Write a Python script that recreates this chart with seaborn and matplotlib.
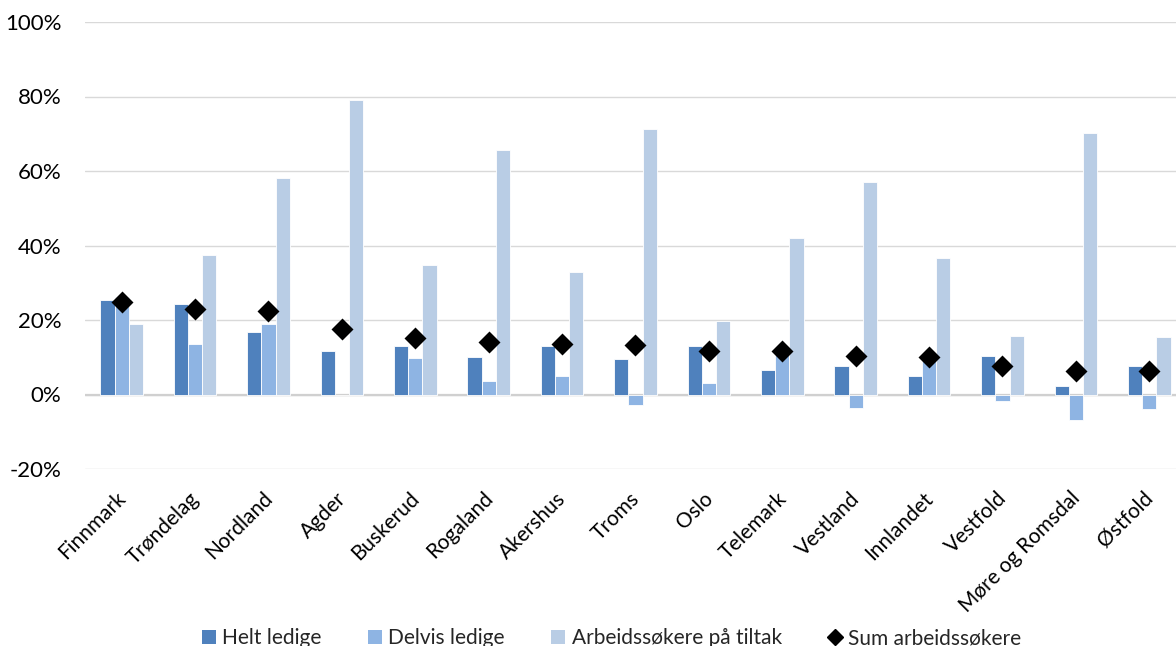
import numpy as np
import pandas as pd
import matplotlib
matplotlib.use("Agg")
import matplotlib.pyplot as plt
import matplotlib.transforms as mtransforms
import seaborn as sns
from matplotlib.patches import Patch
from matplotlib.lines import Line2D
from matplotlib.ticker import FuncFormatter

categories = ["Finnmark", "Trøndelag", "Nordland", "Agder", "Buskerud", "Rogaland",
              "Akershus", "Troms", "Oslo", "Telemark", "Vestland", "Innlandet",
              "Vestfold", "Møre og Romsdal", "Østfold"]
helt_ledige = [25.4, 24.3, 16.8, 11.7, 12.9, 10.0, 12.9, 9.4, 12.9, 6.5, 7.7, 5.0, 10.3, 2.2, 7.7]
delvis_ledige = [26.1, 13.6, 19.0, 0.0, 9.7, 3.6, 4.9, -2.8, 3.1, 11.6, -3.7, 10.5, -1.8, -6.8, -4.0]
tiltak = [19.0, 37.4, 58.1, 79.1, 34.8, 65.6, 32.9, 71.3, 19.7, 42.0, 57.0, 36.6, 15.6, 70.2, 15.4]
sum_arbeidssokere = [24.8, 23.0, 22.3, 17.7, 15.1, 14.2, 13.6, 13.2, 11.8, 11.7, 10.3, 10.1, 7.7, 6.3, 6.3]

series_names = ["Helt ledige", "Delvis ledige", "Arbeidssøkere på tiltak"]
colors = ["#4F81BD", "#8EB4E3", "#B9CDE5"]

df = pd.DataFrame({
    "Fylke": categories * 3,
    "Serie": sum([[s] * len(categories) for s in series_names], []),
    "Verdi": helt_ledige + delvis_ledige + tiltak,
})
df_sum = pd.DataFrame({"Fylke": categories, "Sum": sum_arbeidssokere})

sns.set_theme(style="white")
plt.rcParams["font.family"] = ["Lato", "DejaVu Sans"]

fig = plt.figure(figsize=(11.76, 6.46), dpi=100)
ax = fig.add_axes([85 / 1176, 1 - 469 / 646, (1186 - 85) / 1176, (469 - 22) / 646])

sns.barplot(data=df, x="Fylke", y="Verdi", hue="Serie", hue_order=series_names,
            order=categories, palette=colors, width=0.58, saturation=1,
            edgecolor="white", linewidth=0.6, legend=False, ax=ax, zorder=3)
sns.pointplot(data=df_sum, x="Fylke", y="Sum", order=categories, color="black",
              marker="D", linestyle="none", markersize=9, ax=ax, zorder=5)

ax.set_ylim(-20, 100)
ax.set_yticks(np.arange(-20, 101, 20))
ax.yaxis.set_major_formatter(FuncFormatter(lambda v, p: f"{int(round(v))}%"))
ax.set_xlim(-0.5, len(categories) - 0.5)
ax.grid(axis="y", color="#D9D9D9", linewidth=1.0, zorder=0)
ax.grid(axis="x", visible=False)
ax.axhline(0, color="#D0D0D0", linewidth=1.6, zorder=2)
for s in ax.spines.values():
    s.set_visible(False)
ax.set_xlabel("")
ax.set_ylabel("")
ax.tick_params(axis="y", length=0, pad=17, labelsize=16, labelcolor="#000000")
ax.tick_params(axis="x", length=0, pad=11, labelsize=15, labelcolor="#000000")
plt.setp(ax.get_xticklabels(), rotation=45, ha="right", rotation_mode="anchor")
offset = mtransforms.ScaledTranslation(-6 / 100, -4 / 100, fig.dpi_scale_trans)
for lab in ax.get_xticklabels():
    lab.set_transform(lab.get_transform() + offset)

handles = [Patch(facecolor=c, edgecolor="none") for c in colors]
handles.append(Line2D([0], [0], marker="D", color="black", linestyle="none", markersize=8))
fig.legend(handles, series_names + ["Sum arbeidssøkere"], loc="center",
           bbox_to_anchor=(0.52, 0.012), ncol=4, frameon=False, fontsize=15,
           handlelength=0.7, handleheight=0.7, handletextpad=0.3, columnspacing=2.2)

fig.savefig("out.png", dpi=100)
